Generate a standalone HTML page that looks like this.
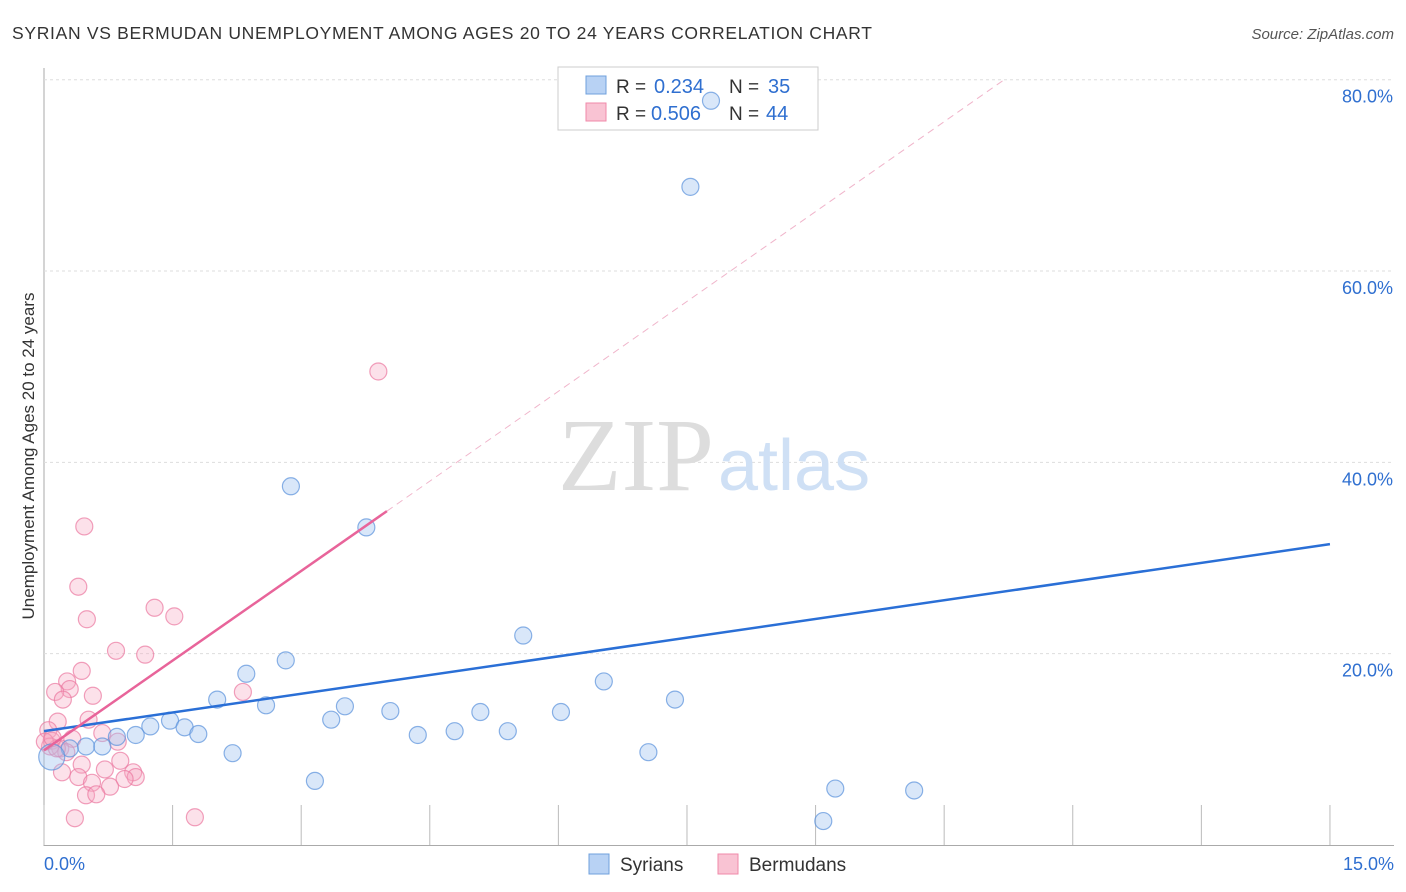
<!DOCTYPE html>
<html><head><meta charset="utf-8"><style>
body{margin:0;background:#fff;font-family:"Liberation Sans",sans-serif}
svg{display:block}
</style></head><body>
<svg id="c" width="1406" height="892">
<text x="12" y="39" font-size="17.5" fill="#333" textLength="860">SYRIAN VS BERMUDAN UNEMPLOYMENT AMONG AGES 20 TO 24 YEARS CORRELATION CHART</text>
<text x="1394" y="39" font-size="15" fill="#555" text-anchor="end" font-style="italic">Source: ZipAtlas.com</text>
<text x="34" y="456" font-size="17" fill="#333" text-anchor="middle" transform="rotate(-90 34 456)">Unemployment Among Ages 20 to 24 years</text>
<g id="grid"></g>
<text x="714" y="490" font-size="104" fill="#ddd" text-anchor="end" font-family="Liberation Serif">ZIP</text>
<text x="718" y="490" font-size="72" fill="#cfe0f5">atlas</text>
<rect x="558" y="67" width="260" height="63" fill="#fff" stroke="#ccc"/>
<rect x="586" y="76" width="20" height="18" fill="#b8d2f4" stroke="#6fa0dc"/>
<rect x="586" y="103" width="20" height="18" fill="#f9c3d3" stroke="#f08aaa"/>
<text x="616" y="93" font-size="19" fill="#333">R =</text>
<text x="654" y="93" font-size="20" fill="#2f6fd0">0.234</text>
<text x="729" y="93" font-size="19" fill="#333">N =</text>
<text x="768" y="93" font-size="20" fill="#2f6fd0">35</text>
<text x="616" y="120" font-size="19" fill="#333">R =</text>
<text x="651" y="120" font-size="20" fill="#2f6fd0">0.506</text>
<text x="729" y="120" font-size="19" fill="#333">N =</text>
<text x="766" y="120" font-size="20" fill="#2f6fd0">44</text>
<g id="pts"></g>
<g id="lines"></g>
<rect x="589" y="854" width="20" height="20" fill="#b8d2f4" stroke="#6fa0dc"/>
<text x="620" y="871" font-size="19" fill="#333">Syrians</text>
<rect x="718" y="854" width="20" height="20" fill="#f9c3d3" stroke="#f08aaa"/>
<text x="749" y="871" font-size="19" fill="#333">Bermudans</text>
</svg>
<script>
const xTicks=[0,1.5,3,4.5,6,7.5,9,10.5,12,13.5,15];
const yTicks=[20,40,60,80];
const yTickLabels=["20.0%","40.0%","60.0%","80.0%"];
const syrX=[7.78,7.54,2.88,3.76,5.59,2.82,2.36,6.53,7.36,2.02,2.59,3.51,3.35,4.04,5.09,6.03,1.47,1.24,1.64,1.80,1.07,0.85,4.36,4.79,5.41,0.49,0.68,0.30,0.09,2.20,7.05,3.16,9.23,10.15,9.09];
const syrY=[77.8,68.8,37.5,33.2,21.9,19.3,17.9,17.1,15.2,15.2,14.6,14.5,13.1,14.0,13.9,13.9,13.0,12.4,12.3,11.6,11.5,11.3,11.5,11.9,11.9,10.3,10.3,10.1,9.2,9.6,9.7,6.7,5.9,5.7,2.5];
const berX=[3.90,0.47,0.40,1.29,0.50,1.52,0.84,1.18,0.44,0.27,0.30,0.13,0.57,2.32,0.22,0.52,0.16,0.05,0.68,0.86,0.09,0.33,0.19,0.26,0.07,0.44,0.89,0.21,0.71,1.04,1.07,0.40,0.94,0.56,0.77,0.49,0.61,0.36,1.76,0.15,0.01,0.10];
const berY=[49.5,33.3,27.0,24.8,23.6,23.9,20.3,19.9,18.2,17.1,16.3,16.0,15.6,16.0,15.2,13.1,12.9,12.0,11.7,10.8,10.9,11.1,10.1,9.7,10.3,8.4,8.8,7.6,7.9,7.6,7.1,7.1,6.9,6.5,6.1,5.2,5.3,2.8,2.9,10.1,10.8,11.2];
const syrLine=[[0,11.9],[15,31.45]];
const berLine=[[0,9.9],[4.0,34.9]];
const berDash=[[4.0,34.9],[11.2,80]];
const X=v=>44+v*85.73, Y=v=>845-v*9.566;
const NS="http://www.w3.org/2000/svg";
function mk(t,a,p){const e=document.createElementNS(NS,t);for(const k in a)e.setAttribute(k,a[k]);p.appendChild(e);return e;}
const g=document.getElementById('grid');
let ax=mk('line',{x1:44,y1:68,x2:44,y2:846,stroke:'#aaa'},g);


let bx=mk('line',{x1:44,y1:845.5,x2:1394,y2:845.5,stroke:'#aaa'},g);


yTicks.forEach((v,i)=>{
 const l=mk('line',{x1:44,x2:1394,y1:Y(v),y2:Y(v),stroke:'#ddd','stroke-dasharray':'3,3'},g);
 
 
 const t=mk('text',{x:1393,y:Y(v)+23,'font-size':18,fill:'#2f6fd0','text-anchor':'end'},g);
 t.textContent=yTickLabels[i];
 
 
});
xTicks.forEach(v=>{
 const l=mk('line',{x1:X(v),x2:X(v),y1:805,y2:845,stroke:'#bbb'},g);
 
 
});
let t0=mk('text',{x:44,y:870,'font-size':18,fill:'#2f6fd0'},g);t0.textContent='0.0%';


let t1=mk('text',{x:1394,y:870,'font-size':18,fill:'#2f6fd0','text-anchor':'end'},g);t1.textContent='15.0%';


const P=document.getElementById('pts');
berX.forEach((x,i)=>{
 const c=mk('circle',{cx:X(x),cy:Y(berY[i]),r:8.5,fill:'rgba(247,170,195,0.35)',stroke:'rgba(235,120,160,0.7)','stroke-width':1.2},P);
 
 
});
syrX.forEach((x,i)=>{
 const c=mk('circle',{cx:X(x),cy:Y(syrY[i]),r:i==28?13:8.5,fill:'rgba(160,195,240,0.4)',stroke:'rgba(90,145,220,0.7)','stroke-width':1.2},P);
 
 
});
const L=document.getElementById('lines');
let a=mk('line',{x1:X(syrLine[0][0]),y1:Y(syrLine[0][1]),x2:X(syrLine[1][0]),y2:Y(syrLine[1][1]),stroke:'#2a6fd6','stroke-width':2.5},L);


let b=mk('line',{x1:X(berLine[0][0]),y1:Y(berLine[0][1]),x2:X(berLine[1][0]),y2:Y(berLine[1][1]),stroke:'#e8649a','stroke-width':2.5},L);


let d=mk('line',{x1:X(berDash[0][0]),y1:Y(berDash[0][1]),x2:X(berDash[1][0]),y2:Y(berDash[1][1]),stroke:'#f0b5cb','stroke-width':1,'stroke-dasharray':'7,5'},L);


</script>
</body></html>
